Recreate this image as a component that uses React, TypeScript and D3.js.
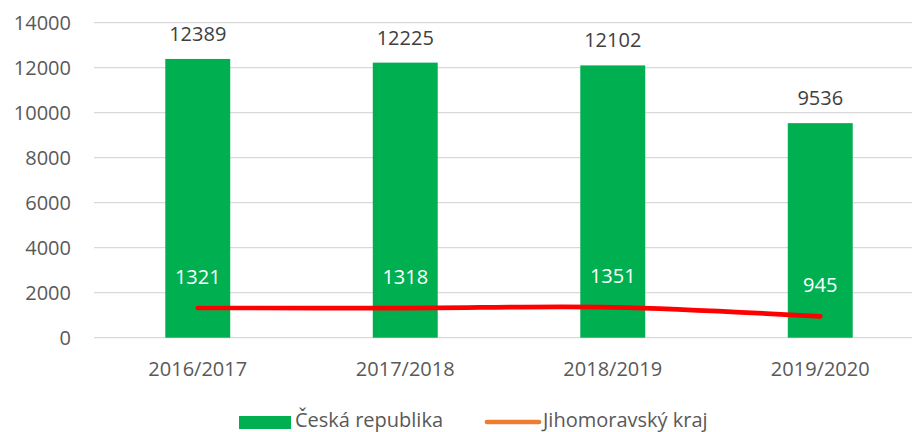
import React from "react";
import * as d3 from "d3";

const categories = ["2016/2017", "2017/2018", "2018/2019", "2019/2020"];
const czValues = [12389, 12225, 12102, 9536];
const jmkValues = [1321, 1318, 1351, 945];
const yTicks = [0, 2000, 4000, 6000, 8000, 10000, 12000, 14000];
const seriesNames = ["Česká republika", "Jihomoravský kraj"];

const W = 912;
const H = 432;
const FONT = "'Open Sans', 'DejaVu Sans', sans-serif";
const FS = 20;

export default function App() {
  const x = d3
    .scaleBand<string>()
    .domain(categories)
    .range([94, 924])
    .paddingInner(0.687)
    .paddingOuter(0.3435);
  const y = d3.scaleLinear().domain([0, 14000]).range([337.7, 22.7]);

  const cx = (c: string) => (x(c) as number) + x.bandwidth() / 2;

  const line = d3
    .line<number>()
    .x((_, i) => cx(categories[i]))
    .y((d) => y(d))
    .curve(d3.curveCatmullRom.alpha(0.5));

  return (
    <svg
      width={W}
      height={H}
      style={{ position: "absolute", left: 0, top: 0, background: "#fff" }}
      fontFamily={FONT}
    >
      {yTicks.map((t) => (
        <g key={t}>
          <line x1={94} x2={W} y1={y(t)} y2={y(t)} stroke="#D9D9D9" strokeWidth={1.3} />
          <text x={71} y={y(t) + 7} textAnchor="end" fontSize={FS} fill="#595959">
            {t}
          </text>
        </g>
      ))}
      {categories.map((c, i) => (
        <g key={c}>
          <rect
            x={x(c)}
            y={y(czValues[i])}
            width={x.bandwidth()}
            height={y(0) - y(czValues[i])}
            fill="#00B050"
          />
          <text
            x={cx(c)}
            y={y(czValues[i]) - 18}
            textAnchor="middle"
            fontSize={FS}
            fill="#404040"
          >
            {czValues[i]}
          </text>
          <text x={cx(c)} y={376} textAnchor="middle" fontSize={FS} fill="#595959">
            {c}
          </text>
        </g>
      ))}
      <path
        d={line(jmkValues) || ""}
        fill="none"
        stroke="#FF0000"
        strokeWidth={4.7}
        strokeLinecap="round"
        strokeLinejoin="round"
      />
      {categories.map((c, i) => (
        <text
          key={c + "l"}
          x={cx(c)}
          y={y(jmkValues[i]) - 24}
          textAnchor="middle"
          fontSize={FS}
          fill="#FFFFFF"
        >
          {jmkValues[i]}
        </text>
      ))}
      <g>
        <rect x={239} y={416} width={52} height={13} fill="#00B050" />
        <text x={295} y={427} fontSize={FS} fill="#595959">
          {seriesNames[0]}
        </text>
        <line
          x1={487}
          x2={539}
          y1={422}
          y2={422}
          stroke="#ED7D31"
          strokeWidth={4.7}
          strokeLinecap="round"
        />
        <text x={543} y={427} fontSize={FS} fill="#595959">
          {seriesNames[1]}
        </text>
      </g>
    </svg>
  );
}
